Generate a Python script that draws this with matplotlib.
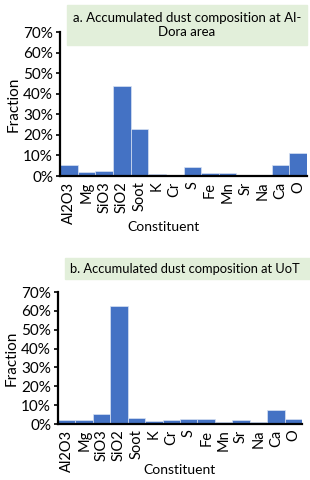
import numpy as np
import matplotlib.pyplot as plt
from matplotlib.ticker import PercentFormatter

constituents = ["Al2O3", "Mg", "SiO3", "SiO2", "Soot", "K", "Cr", "S",
                "Fe", "Mn", "Sr", "Na", "Ca", "O"]

# fractions
al_dora = [0.053, 0.021, 0.025, 0.437, 0.227, 0.010, 0.0, 0.042,
           0.015, 0.015, 0.0, 0.0, 0.053, 0.110]
uot = [0.020, 0.020, 0.051, 0.626, 0.034, 0.016, 0.020, 0.028,
       0.028, 0.012, 0.020, 0.012, 0.073, 0.025]

title_a = "a. Accumulated dust composition at Al-\nDora area"
title_b = "b. Accumulated dust composition at UoT"

plt.rcParams['font.family'] = ['Lato', 'DejaVu Sans']

bar_color = "#4472C4"
box_color = "#E2EFDA"

fig = plt.figure(figsize=(3.1, 4.8), dpi=100)

# axes positions in pixels: (left, top, right, bottom) from top-left
def add_axes(l, t, r, b):
    W, H = 310, 480
    return fig.add_axes([l / W, 1 - b / H, (r - l) / W, (b - t) / H])

ax_a = add_axes(60, 32, 307, 176)
ax_b = add_axes(58, 292, 302, 424)

label_pos = {ax_a: (0.42, -0.31), ax_b: (0.50, -0.30)}

for ax, vals in [(ax_a, al_dora), (ax_b, uot)]:
    x = np.arange(len(constituents))
    ax.bar(x, vals, width=1.0, color=bar_color, edgecolor="#D9E2F3", linewidth=0.5)
    ax.set_xlim(-0.5, len(constituents) - 0.5)
    ax.set_ylim(0, 0.70)
    ax.set_yticks(np.arange(0, 0.71, 0.1))
    ax.yaxis.set_major_formatter(PercentFormatter(1.0, decimals=0))
    ax.set_xticks(x)
    ax.set_xticklabels(constituents, rotation=90, fontsize=10.5)
    ax.tick_params(axis="x", length=0, pad=4)
    ax.tick_params(axis="y", labelsize=11, length=3, width=1.2, pad=2)
    for s in ["top", "right"]:
        ax.spines[s].set_visible(False)
    for s in ["left", "bottom"]:
        ax.spines[s].set_linewidth(1.6)
        ax.spines[s].set_color("black")
    ax.set_xlabel("Constituent", fontsize=10)
    ax.xaxis.set_label_coords(*label_pos[ax])
    ax.set_ylabel("Fraction", fontsize=11, labelpad=2)

# title boxes
fig.patches.append(plt.Rectangle((67 / 310, 1 - 45 / 480), 240 / 310, 40 / 480,
                                 transform=fig.transFigure, color=box_color, zorder=0))
fig.text(187 / 310, 1 - 25 / 480, title_a, ha="center", va="center",
         fontsize=9.5, linespacing=1.25)

fig.patches.append(plt.Rectangle((65 / 310, 1 - 279 / 480), 250 / 310, 21 / 480,
                                 transform=fig.transFigure, color=box_color, zorder=0))
fig.text(70 / 310, 1 - 269 / 480, title_b, ha="left", va="center", fontsize=9.3)

fig.savefig("out.png", dpi=100)
